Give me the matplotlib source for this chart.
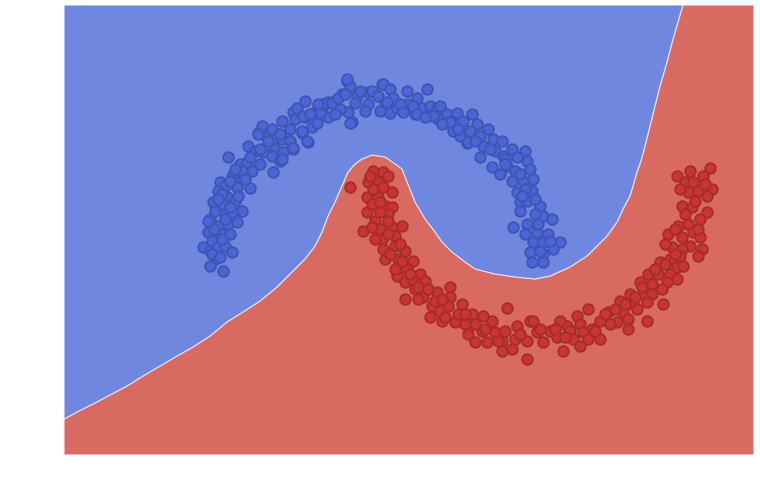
import matplotlib
matplotlib.use("Agg")
import matplotlib.pyplot as plt
import numpy as np

# class 0 (upper moon) points
blue_x = [-1.52, -1.22, -1.13, -1.05, -0.98, -0.90, -0.78, -0.72, -1.32, -1.25, -1.17, -1.05, -0.97, -0.87,
          -1.08, -1.00, -1.07, -1.40, -1.33, -1.28, -1.20, -1.38, -1.48, -1.42, -1.60, -1.55, -1.43, -1.30,
          -1.62, -1.53, -1.45, -1.67, -1.58, -1.38, -1.55, -1.48, -1.70, -1.62, -1.52, -1.43, -1.72, -1.63,
          -1.57, -1.77, -1.68, -1.70, -1.62, -1.55, -1.48, -1.65, -1.70, -1.57,
          -0.33, -0.30, -0.12, 0.02, -0.38, -0.52, -0.75, -0.87, -0.75, -0.65, -0.58, -0.45, -0.28, -0.32,
          -0.52, -0.98, -0.85, -0.68, -0.78, -1.18, -1.08, -1.22, -0.73, -0.87, -0.98,
          -0.33, -0.83, -0.77, -0.60, -0.57, -0.48, -0.42, -0.35, -0.23, -0.20, -0.40, -0.30, -0.25, -0.12,
          -0.08, -0.02, 0.03, 0.10, 0.05, 0.13, 0.10, 0.17, 0.27, 0.28, 0.37, 0.47, 0.35, 0.42, 0.50, 0.57,
          0.48, 0.58, 0.67, 0.68, 0.77, 0.75, 0.83, 0.73, 0.82, 0.87, -0.70, -0.63,
          0.07, 0.20, 0.33, 0.60, 0.37, 0.53, 0.92, 0.70, 0.97, 0.90, 1.08, 0.80, 1.00, 0.88, 1.13, 1.22,
          1.03, 1.15, 1.32, 1.45, 1.00, 1.23, 1.37, 1.12, 1.27, 1.47, 1.50, 1.20, 1.35, 1.32, 1.43, 1.53,
          1.37, 1.52, 1.40, 1.47, 1.33, 1.60, 1.63, 1.72, 1.47, 1.57, 1.68, 1.80, 1.53, 1.63, 1.73, 1.50,
          1.63, 1.52, 1.63, 1.40, 1.55, 1.45, 1.25,
          -1.58, -1.50, -1.42, -1.66, -1.58, -1.50, -1.68, -1.60, -1.55, -1.35, 0.00, 0.23, 0.45, 0.62,
          0.78, 0.95, 1.10, 1.25, 1.40, 1.42, 1.55, 1.58, 1.45, 1.60, 1.70, -0.15, -0.45, -0.62, -0.90,
          -1.00, -1.12, -1.20, -1.30, -1.45, -1.50, -1.65, -1.72, -1.62]
blue_y = [1.02, 1.26, 1.22, 1.20, 1.20, 1.18, 1.26, 1.17, 1.13, 1.08, 1.07, 1.10, 1.07, 1.10,
          1.03, 0.98, 0.87, 0.95, 0.97, 0.88, 0.95, 0.88, 0.83, 0.77, 0.77, 0.73, 0.72, 0.71,
          0.68, 0.62, 0.58, 0.57, 0.55, 0.48, 0.45, 0.47, 0.40, 0.33, 0.35, 0.37, 0.27, 0.23,
          0.25, 0.12, 0.18, 0.08, 0.12, 0.13, 0.07, 0.00, -0.07, -0.12,
          1.78, 1.73, 1.67, 1.75, 1.65, 1.57, 1.58, 1.47, 1.42, 1.47, 1.50, 1.58, 1.37, 1.47,
          1.42, 1.38, 1.40, 1.32, 1.28, 1.33, 1.30, 1.25, 1.18, 1.11, 1.00,
          1.80, 1.51, 1.43, 1.46, 1.55, 1.56, 1.61, 1.65, 1.63, 1.68, 1.50, 1.36, 1.56, 1.55,
          1.68, 1.63, 1.75, 1.70, 1.56, 1.61, 1.46, 1.51, 1.68, 1.55, 1.61, 1.70, 1.45, 1.51, 1.53, 1.50,
          1.43, 1.40, 1.45, 1.36, 1.46, 1.36, 1.38, 1.28, 1.26, 1.16, 1.45, 1.36,
          1.57, 1.55, 1.53, 1.53, 1.45, 1.43, 1.45, 1.37, 1.35, 1.28, 1.30, 1.23, 1.23, 1.17, 1.20, 1.18,
          1.13, 1.08, 1.10, 1.08, 1.02, 1.03, 1.02, 0.92, 0.93, 0.98, 0.90, 0.85, 0.88, 0.78, 0.78, 0.80,
          0.67, 0.68, 0.57, 0.58, 0.32, 0.53, 0.43, 0.40, 0.35, 0.27, 0.25, 0.17, 0.17, 0.17, 0.10, 0.07,
          0.05, -0.03, -0.03, 0.48, 0.45, 0.70, 1.00,
          0.65, 0.52, 0.63, 0.30, 0.20, 0.25, 0.05, 0.02, 0.40, 0.80, 1.48, 1.47, 1.42, 1.35,
          1.30, 1.18, 1.10, 0.95, 0.85, 0.63, 0.60, 0.35, 0.25, 0.08, 0.18, 1.48, 1.45, 1.55, 1.30,
          1.25, 1.18, 1.10, 1.02, 0.90, 0.78, 0.48, 0.38, 0.60]

# class 1 (lower moon) points
red_x = [-0.30, -0.07, 0.03, 0.08, -0.12, -0.02, 0.12, -0.13, -0.02, 0.05, 0.12, -0.13, -0.05, 0.08,
         -0.17, 0.00, 0.12, 0.22, 0.02, 0.15, 0.03, 0.15, 0.25, 0.05, 0.18, 0.28, 0.33, 0.17, 0.27, 0.40,
         0.25, 0.35, 0.45, 0.25, 0.43, 0.57, 0.70, 0.70, 0.52, 0.68, 0.82, 0.92, 0.50, 0.62, 0.75, 0.85,
         0.95, 1.03, 1.12, 1.27, 1.02, 1.15, 1.25, 1.37, 1.50, 1.22, 1.35, 1.47, 0.95, 1.07, 1.22, 1.32,
         1.47, -0.07, 0.03, -0.08, 0.00, -0.08, 0.08, 0.10, 0.15, 0.32, 0.38, 0.60, 0.78,
         2.97, 3.30, 3.23, 3.05, 3.13, 3.32, 3.08, 3.18, 3.27, 3.02, 3.12, 3.27, 3.20, 2.98, 3.08, 3.13,
         2.88, 3.02, 3.20, 3.10, 2.92, 3.02, 3.22, 3.18, 2.90, 3.00, 2.80, 2.97, 3.03, 2.68, 2.78, 2.90,
         2.97, 2.60, 2.72, 2.87, 2.50, 2.63, 2.72, 2.82, 2.40, 2.53, 2.67, 2.83, 2.43, 2.57, 2.67, 2.28,
         2.37, 2.48, 2.08, 1.97, 2.20, 2.12, 2.30, 2.00, 1.87, 1.80, 1.70, 1.90, 2.03, 2.20, 1.77, 1.93,
         2.08, 1.83, 1.63, 1.53, 1.57, 2.00, 2.48,
         -0.10, 0.00, 0.08, -0.05, 0.20, 0.22, 0.30, 0.38, 0.48, 0.55, 0.62, 0.65, 0.85, 0.88, 1.05,
         1.18, 1.40, 1.60, 1.75, 1.85, 2.15, 2.25, 2.35, 2.45, 2.55, 2.62, 2.75, 2.85, 2.95, 2.85,
         2.95, 3.05, 3.15, 3.25, 3.10, 3.00, 3.18]
red_y = [0.72, 0.88, 0.87, 0.83, 0.77, 0.77, 0.67, 0.62, 0.62, 0.53, 0.52, 0.47, 0.38, 0.45,
         0.28, 0.30, 0.32, 0.33, 0.20, 0.23, 0.10, 0.13, 0.08, 0.00, 0.00, -0.05, -0.02, -0.17, -0.10, -0.15,
         -0.23, -0.30, -0.22, -0.40, -0.38, -0.33, -0.28, -0.38, -0.47, -0.47, -0.45, -0.55, -0.58, -0.62, -0.63, -0.65,
         -0.65, -0.57, -0.62, -0.49, -0.72, -0.73, -0.72, -0.67, -0.62, -0.82, -0.80, -0.82, -0.83, -0.83, -0.92, -0.90,
         -1.00, 0.70, 0.72, 0.55, 0.47, 0.32, 0.25, 0.05, -0.10, -0.20, -0.40, -0.52, -0.55,
         0.83, 0.91, 0.83, 0.77, 0.77, 0.70, 0.67, 0.68, 0.63, 0.53, 0.52, 0.47, 0.40, 0.33, 0.35, 0.27,
         0.25, 0.22, 0.22, 0.13, 0.12, 0.10, 0.10, 0.03, 0.00, 0.03, -0.03, -0.08, -0.07, -0.15, -0.15, -0.15,
         -0.20, -0.23, -0.25, -0.23, -0.35, -0.35, -0.35, -0.30, -0.42, -0.45, -0.43, -0.45, -0.53, -0.50, -0.62, -0.53,
         -0.63, -0.60, -0.50, -0.57, -0.62, -0.70, -0.65, -0.65, -0.67, -0.62, -0.72, -0.72, -0.73, -0.80, -0.78, -0.80,
         -0.80, -0.92, -0.83, -0.62, -0.73, -0.87, -0.70,
         0.83, 0.57, 0.38, 0.20, 0.15, -0.02, -0.15, -0.28, -0.30, -0.42, -0.40, -0.58, -0.55, -0.75, -0.70,
         -0.82, -0.75, -0.70, -0.70, -0.78, -0.72, -0.55, -0.50, -0.45, -0.38, -0.28, -0.10, -0.05, 0.05, 0.15,
         0.30, 0.45, 0.58, 0.75, 0.88, 0.70, 0.30]

# decision boundary
bound_x = [-3.16, -3.03, -2.87, -2.70, -2.53, -2.37, -2.20, -2.03, -1.87, -1.70, -1.53, -1.37, -1.20,
           -1.03, -0.90, -0.75, -0.65, -0.58, -0.52, -0.45, -0.38, -0.32, -0.25, -0.18, -0.08, 0.05,
           0.15, 0.22, 0.27, 0.35, 0.45, 0.55, 0.62, 0.72, 0.85, 0.95, 1.15, 1.35, 1.55, 1.70, 1.90,
           2.07, 2.17, 2.27, 2.37, 2.43, 2.50, 2.53, 2.57, 2.61, 2.65, 2.70, 2.75, 2.80, 2.87, 2.93,
           2.98, 3.03]
bound_y = [-1.60, -1.53, -1.45, -1.36, -1.27, -1.17, -1.07, -0.97, -0.88, -0.77, -0.63, -0.53, -0.42,
           -0.28, -0.15, 0.00, 0.13, 0.27, 0.43, 0.57, 0.73, 0.87, 0.95, 1.00, 1.04, 1.02,
           0.95, 0.90, 0.77, 0.57, 0.40, 0.27, 0.17, 0.07, -0.03, -0.10, -0.15, -0.18, -0.20, -0.17, -0.08,
           0.03, 0.13, 0.23, 0.37, 0.50, 0.63, 0.73, 0.87, 0.98, 1.13, 1.33, 1.53, 1.73, 1.97, 2.20,
           2.37, 2.54]

x_min, x_max = -3.16, 3.73
y_min, y_max = -1.95, 2.54

fig = plt.figure(figsize=(7.6, 4.89), dpi=100)
ax = fig.add_axes([64 / 760, 34 / 489, 689 / 760, 449 / 489])

fx = np.append(bound_x, x_max)
fy = np.append(bound_y, y_max)
ax.fill_between(fx, fy, y_max, color="#7087e0", linewidth=0)
ax.fill_between(fx, y_min, fy, color="#d86a61", linewidth=0)
ax.plot(bound_x, bound_y, color="#e8e8f4", linewidth=0.8)

ax.scatter(blue_x, blue_y, s=58, c="#4b66d4", edgecolors="#3d54b4", linewidths=1.3, zorder=3)
ax.scatter(red_x, red_y, s=58, c="#c93535", edgecolors="#a62b2b", linewidths=1.3, zorder=3)

ax.set_xlim(x_min, x_max)
ax.set_ylim(y_min, y_max)
ax.axis("off")

fig.savefig("out.png", dpi=100)
